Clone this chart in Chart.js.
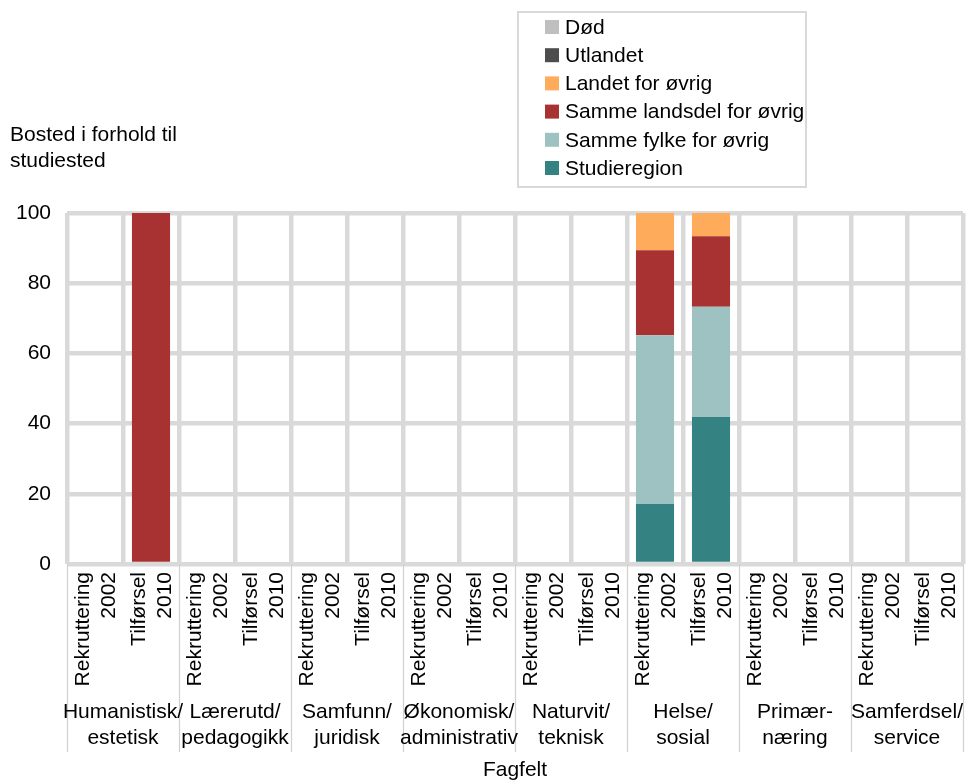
<!DOCTYPE html>
<html>
<head>
<meta charset="utf-8">
<script src="https://cdn.jsdelivr.net/npm/chart.js@4/dist/chart.umd.min.js"></script>
<style>
  html, body { margin: 0; padding: 0; background: #fff; }
  canvas { display: block; }
</style>
</head>
<body>
<canvas id="chart" width="967" height="783"></canvas>
<script>
// Bosted i forhold til studiested, per fagfelt (prosent)
const groups = [
  ["Humanistisk/", "estetisk"],
  ["Lærerutd/", "pedagogikk"],
  ["Samfunn/", "juridisk"],
  ["Økonomisk/", "administrativ"],
  ["Naturvit/", "teknisk"],
  ["Helse/", "sosial"],
  ["Primær-", "næring"],
  ["Samferdsel/", "service"],
];
const subLabels = [["Rekruttering", "2002"], ["Tilførsel", "2010"]];
const yTicks = [0, 20, 40, 60, 80, 100];

// one value per bar: 8 fagfelt x (Rekruttering 2002, Tilførsel 2010)
const studieregion = [0, 0, 0, 0, 0, 0, 0, 0, 0, 0, 17.1, 41.9, 0, 0, 0, 0];
const sammeFylke   = [0, 0, 0, 0, 0, 0, 0, 0, 0, 0, 48.1, 31.4, 0, 0, 0, 0];
const sammeLandsdel = [0, 100, 0, 0, 0, 0, 0, 0, 0, 0, 24.2, 20.1, 0, 0, 0, 0];
const landetForOvrig = [0, 0, 0, 0, 0, 0, 0, 0, 0, 0, 10.6, 6.6, 0, 0, 0, 0];
const utlandet     = [0, 0, 0, 0, 0, 0, 0, 0, 0, 0, 0, 0, 0, 0, 0, 0];
const dod          = [0, 0, 0, 0, 0, 0, 0, 0, 0, 0, 0, 0, 0, 0, 0, 0];

const labels = [];
groups.forEach(() => subLabels.forEach((s) => labels.push(s)));

const FONT = "'Liberation Sans', Arial, sans-serif";
const GRID = "#d9d9d9";

Chart.defaults.font.family = FONT;
Chart.defaults.font.size = 21;
Chart.defaults.color = "#000";

// legend box, y title and fagfelt group labels
const extras = {
  id: "extras",
  afterDraw(chart) {
    const ctx = chart.ctx;
    const x = chart.scales.x;
    ctx.save();
    ctx.font = "21px " + FONT;
    ctx.fillStyle = "#000";

    // y axis title, top left
    ctx.textAlign = "left";
    ctx.textBaseline = "middle";
    ctx.fillText("Bosted i forhold til", 10, 135);
    ctx.fillText("studiested", 10, 161);

    // legend (reverse of stack order)
    ctx.strokeStyle = GRID;
    ctx.lineWidth = 2;
    ctx.strokeRect(518, 12, 288, 175);
    const ds = chart.data.datasets.slice().reverse();
    ds.forEach((d, i) => {
      const cy = 27 + i * 28.2;
      ctx.fillStyle = d.backgroundColor;
      ctx.fillRect(545, cy - 7, 14, 14);
      ctx.fillStyle = "#000";
      ctx.fillText(d.label, 565, cy + 1);
    });

    // group dividers and labels below the axis
    const half = (x.getPixelForValue(1) - x.getPixelForValue(0)) / 2;
    ctx.strokeStyle = "#d0d0d0";
    ctx.lineWidth = 1.2;
    for (let g = 0; g <= groups.length; g++) {
      const px = g < groups.length ? x.getPixelForValue(g * 2) - half : x.right;
      ctx.beginPath();
      ctx.moveTo(Math.round(px) + 0.5, x.top);
      ctx.lineTo(Math.round(px) + 0.5, 752);
      ctx.stroke();
    }
    ctx.textAlign = "center";
    groups.forEach((g, i) => {
      const cx = (x.getPixelForValue(i * 2) + x.getPixelForValue(i * 2 + 1)) / 2;
      ctx.fillText(g[0], cx, 712);
      ctx.fillText(g[1], cx, 738);
    });
    ctx.restore();
  },
};

function bars(label, data, color) {
  return {
    label: label,
    data: data,
    backgroundColor: color,
    borderWidth: 0,
    barPercentage: 0.68,
    categoryPercentage: 1,
  };
}

new Chart(document.getElementById("chart"), {
  type: "bar",
  data: {
    labels: labels,
    datasets: [
      bars("Studieregion", studieregion, "#348382"),
      bars("Samme fylke for øvrig", sammeFylke, "#9dc2c1"),
      bars("Samme landsdel for øvrig", sammeLandsdel, "#a83232"),
      bars("Landet for øvrig", landetForOvrig, "#ffab5c"),
      bars("Utlandet", utlandet, "#4d4d4d"),
      bars("Død", dod, "#bfbfbf"),
    ],
  },
  options: {
    responsive: false,
    animation: false,
    layout: { padding: { top: 213, right: 4, left: 0, bottom: 0 } },
    plugins: {
      legend: { display: false },
      tooltip: { enabled: false },
    },
    scales: {
      x: {
        stacked: true,
        grid: { color: GRID, lineWidth: 4.5, offset: true, drawTicks: false },
        border: { display: false },
        ticks: {
          autoSkip: false,
          minRotation: 90,
          maxRotation: 90,
          padding: 8,
          labelOffset: -12,
          font: { size: 21, lineHeight: 1.25 },
        },
        title: { display: true, text: "Fagfelt", padding: { top: 0, bottom: 0 } },
        afterFit(scale) {
          scale.height = 219;
          scale.paddingLeft = 0;
          scale.paddingRight = 0;
        },
      },
      y: {
        stacked: true,
        min: 0,
        max: 100,
        afterBuildTicks(scale) { scale.ticks = yTicks.map((v) => ({ value: v })); },
        grid: { color: GRID, lineWidth: 4.5, drawTicks: false },
        border: { display: false },
        ticks: { padding: 16 },
        afterFit(scale) { scale.width = 67; },
      },
    },
  },
  plugins: [extras],
});
</script>
</body>
</html>
